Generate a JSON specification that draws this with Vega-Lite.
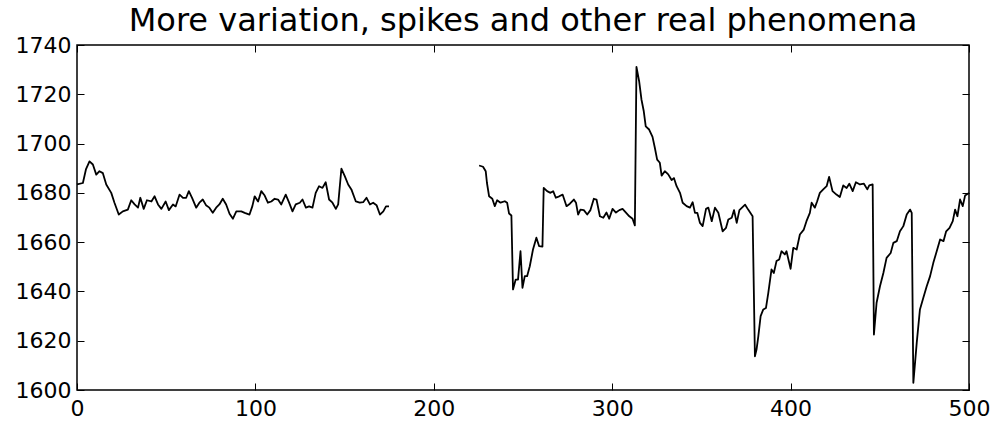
{
  "$schema": "https://vega.github.io/schema/vega-lite/v6.json",
  "width": 892,
  "height": 345,
  "autosize": {"type": "none"},
  "padding": {"left": 77, "top": 45, "right": 29, "bottom": 36},
  "background": "white",
  "title": {
    "text": "More variation, spikes and other real phenomena",
    "anchor": "middle",
    "fontSize": 32,
    "fontWeight": "normal",
    "font": "DejaVu Sans",
    "color": "black",
    "baseline": "alphabetic",
    "offset": -29
  },
  "config": {
    "font": "DejaVu Sans",
    "view": {"stroke": "black", "strokeWidth": 1.5},
    "axis": {
      "grid": false,
      "domain": false,
      "tickColor": "black",
      "tickWidth": 1,
      "tickSize": -7,
      "labelFont": "DejaVu Sans",
      "labelFontSize": 22,
      "labelColor": "black",
      "labelFlush": false,
      "labelOverlap": false,
      "labelBound": false,
      "format": "d",
      "title": null
    }
  },
  "data": {
    "values": [
      {"x": 0, "y": 1683.4, "run": "a"}, {"x": 3.3, "y": 1684, "run": "a"}, {"x": 5, "y": 1689.5, "run": "a"},
      {"x": 7, "y": 1692.8, "run": "a"}, {"x": 8.9, "y": 1691.5, "run": "a"}, {"x": 10.8, "y": 1687.4, "run": "a"},
      {"x": 12.6, "y": 1688.8, "run": "a"}, {"x": 14.5, "y": 1688, "run": "a"}, {"x": 16.4, "y": 1683.4, "run": "a"},
      {"x": 19.2, "y": 1680, "run": "a"}, {"x": 21, "y": 1676, "run": "a"}, {"x": 23.4, "y": 1671.2, "run": "a"},
      {"x": 25.7, "y": 1672.5, "run": "a"}, {"x": 28.5, "y": 1673.2, "run": "a"}, {"x": 30.4, "y": 1677, "run": "a"},
      {"x": 32.3, "y": 1675.3, "run": "a"}, {"x": 34.2, "y": 1674, "run": "a"}, {"x": 35.5, "y": 1678, "run": "a"},
      {"x": 37.4, "y": 1673.5, "run": "a"}, {"x": 39.2, "y": 1677, "run": "a"}, {"x": 41.7, "y": 1676.5, "run": "a"},
      {"x": 43.5, "y": 1678.6, "run": "a"}, {"x": 45.4, "y": 1675.3, "run": "a"}, {"x": 47.3, "y": 1673.5, "run": "a"},
      {"x": 49.7, "y": 1676.5, "run": "a"}, {"x": 51.5, "y": 1673, "run": "a"}, {"x": 53.8, "y": 1675.3, "run": "a"},
      {"x": 55.3, "y": 1674.5, "run": "a"}, {"x": 57.5, "y": 1679.3, "run": "a"}, {"x": 59.4, "y": 1678, "run": "a"},
      {"x": 61.2, "y": 1678, "run": "a"}, {"x": 62.7, "y": 1680.7, "run": "a"}, {"x": 64.5, "y": 1678, "run": "a"},
      {"x": 66.8, "y": 1674, "run": "a"}, {"x": 68.6, "y": 1676, "run": "a"}, {"x": 70.5, "y": 1677.3, "run": "a"},
      {"x": 72.3, "y": 1675, "run": "a"}, {"x": 74.2, "y": 1674, "run": "a"}, {"x": 76.1, "y": 1671.9, "run": "a"},
      {"x": 78, "y": 1674, "run": "a"}, {"x": 79.8, "y": 1675.3, "run": "a"}, {"x": 81.7, "y": 1677.6, "run": "a"},
      {"x": 83.6, "y": 1675.3, "run": "a"}, {"x": 85.5, "y": 1671.5, "run": "a"}, {"x": 87.4, "y": 1669.5, "run": "a"},
      {"x": 89.3, "y": 1672.5, "run": "a"}, {"x": 92.1, "y": 1672.5, "run": "a"}, {"x": 94, "y": 1671.9, "run": "a"},
      {"x": 96.7, "y": 1671.2, "run": "a"}, {"x": 98.3, "y": 1674.6, "run": "a"}, {"x": 99.6, "y": 1678.6, "run": "a"},
      {"x": 101.5, "y": 1676.5, "run": "a"}, {"x": 103.3, "y": 1680.7, "run": "a"}, {"x": 105.2, "y": 1678.9, "run": "a"},
      {"x": 107, "y": 1676, "run": "a"}, {"x": 108.9, "y": 1676.5, "run": "a"}, {"x": 110.8, "y": 1677.6, "run": "a"},
      {"x": 112.7, "y": 1677.3, "run": "a"}, {"x": 114.5, "y": 1675.3, "run": "a"}, {"x": 117, "y": 1679.3, "run": "a"},
      {"x": 118.9, "y": 1676, "run": "a"}, {"x": 120.8, "y": 1672.5, "run": "a"}, {"x": 122.6, "y": 1675.3, "run": "a"},
      {"x": 124.9, "y": 1676, "run": "a"}, {"x": 126.4, "y": 1677.3, "run": "a"}, {"x": 128.3, "y": 1674, "run": "a"},
      {"x": 130.1, "y": 1674.5, "run": "a"}, {"x": 132, "y": 1674, "run": "a"}, {"x": 133.8, "y": 1680, "run": "a"},
      {"x": 135.7, "y": 1682.7, "run": "a"}, {"x": 137.6, "y": 1682, "run": "a"}, {"x": 139.4, "y": 1684.3, "run": "a"},
      {"x": 141.3, "y": 1677.3, "run": "a"}, {"x": 143.2, "y": 1676, "run": "a"}, {"x": 145.1, "y": 1673.5, "run": "a"},
      {"x": 146.4, "y": 1675.3, "run": "a"}, {"x": 148.2, "y": 1689.8, "run": "a"}, {"x": 150.1, "y": 1686.8, "run": "a"},
      {"x": 152, "y": 1683.4, "run": "a"}, {"x": 153.8, "y": 1681.4, "run": "a"}, {"x": 156.3, "y": 1676.5, "run": "a"},
      {"x": 158.5, "y": 1676, "run": "a"}, {"x": 160.4, "y": 1676.2, "run": "a"}, {"x": 162.3, "y": 1678, "run": "a"},
      {"x": 164.2, "y": 1675.3, "run": "a"}, {"x": 166, "y": 1676, "run": "a"}, {"x": 167.9, "y": 1675, "run": "a"},
      {"x": 169.8, "y": 1671.2, "run": "a"}, {"x": 171.7, "y": 1672.5, "run": "a"}, {"x": 173.2, "y": 1674.5, "run": "a"},
      {"x": 174.9, "y": 1674.5, "run": "a"},
      {"x": 225.4, "y": 1691.1, "run": "b"}, {"x": 227.6, "y": 1690.6, "run": "b"}, {"x": 229.1, "y": 1688.8, "run": "b"},
      {"x": 229.8, "y": 1684, "run": "b"}, {"x": 231, "y": 1678.6, "run": "b"}, {"x": 232.8, "y": 1677.6, "run": "b"},
      {"x": 234.2, "y": 1674.6, "run": "b"}, {"x": 235.5, "y": 1677, "run": "b"}, {"x": 237.4, "y": 1676, "run": "b"},
      {"x": 239.8, "y": 1676.6, "run": "b"}, {"x": 241.1, "y": 1676, "run": "b"}, {"x": 242.2, "y": 1671.6, "run": "b"},
      {"x": 243.5, "y": 1670.8, "run": "b"}, {"x": 244.4, "y": 1640.8, "run": "b"}, {"x": 245.9, "y": 1644.8, "run": "b"},
      {"x": 247.2, "y": 1644.8, "run": "b"}, {"x": 248.6, "y": 1656.3, "run": "b"}, {"x": 249.7, "y": 1641.5, "run": "b"},
      {"x": 251, "y": 1646.2, "run": "b"}, {"x": 252.3, "y": 1646.2, "run": "b"}, {"x": 253.8, "y": 1650.2, "run": "b"},
      {"x": 255.6, "y": 1657, "run": "b"}, {"x": 257.5, "y": 1661.8, "run": "b"}, {"x": 259, "y": 1658.4, "run": "b"},
      {"x": 260.9, "y": 1658.2, "run": "b"}, {"x": 261.6, "y": 1682, "run": "b"}, {"x": 263.5, "y": 1680.7, "run": "b"},
      {"x": 265.4, "y": 1680, "run": "b"}, {"x": 266.9, "y": 1680.7, "run": "b"}, {"x": 268.4, "y": 1678, "run": "b"},
      {"x": 270.3, "y": 1678.6, "run": "b"}, {"x": 272.2, "y": 1679.3, "run": "b"}, {"x": 274.4, "y": 1674.6, "run": "b"},
      {"x": 276.3, "y": 1675.6, "run": "b"}, {"x": 278.5, "y": 1677.3, "run": "b"}, {"x": 279.7, "y": 1676, "run": "b"},
      {"x": 280.9, "y": 1671.2, "run": "b"}, {"x": 282.2, "y": 1673.2, "run": "b"}, {"x": 284.1, "y": 1673, "run": "b"},
      {"x": 286, "y": 1671.2, "run": "b"}, {"x": 287.8, "y": 1673, "run": "b"}, {"x": 289.7, "y": 1677.6, "run": "b"},
      {"x": 291.2, "y": 1677.3, "run": "b"}, {"x": 293.1, "y": 1670.5, "run": "b"}, {"x": 295, "y": 1669.9, "run": "b"},
      {"x": 296.8, "y": 1672, "run": "b"}, {"x": 298.3, "y": 1669.5, "run": "b"}, {"x": 300.2, "y": 1673.5, "run": "b"},
      {"x": 302.1, "y": 1672, "run": "b"}, {"x": 304, "y": 1673, "run": "b"}, {"x": 305.8, "y": 1673.5, "run": "b"},
      {"x": 307.7, "y": 1672, "run": "b"}, {"x": 309.6, "y": 1670.5, "run": "b"}, {"x": 311.4, "y": 1669.5, "run": "b"},
      {"x": 312.7, "y": 1666.8, "run": "b"}, {"x": 313.6, "y": 1731.1, "run": "b"}, {"x": 315.1, "y": 1725.3, "run": "b"},
      {"x": 316.4, "y": 1717.9, "run": "b"}, {"x": 317.7, "y": 1713.1, "run": "b"}, {"x": 318.8, "y": 1707, "run": "b"},
      {"x": 320.7, "y": 1705.7, "run": "b"}, {"x": 322.6, "y": 1702.7, "run": "b"}, {"x": 323.9, "y": 1698.3, "run": "b"},
      {"x": 325.2, "y": 1693.5, "run": "b"}, {"x": 326.7, "y": 1692.2, "run": "b"}, {"x": 327.7, "y": 1687, "run": "b"},
      {"x": 329.5, "y": 1688.8, "run": "b"}, {"x": 331.4, "y": 1687.5, "run": "b"}, {"x": 333.3, "y": 1685.2, "run": "b"},
      {"x": 334.6, "y": 1686, "run": "b"}, {"x": 336.1, "y": 1682.7, "run": "b"}, {"x": 338, "y": 1680, "run": "b"},
      {"x": 339.5, "y": 1676, "run": "b"}, {"x": 341.7, "y": 1674.6, "run": "b"}, {"x": 343.6, "y": 1674, "run": "b"},
      {"x": 345.1, "y": 1676.2, "run": "b"}, {"x": 346.4, "y": 1671.9, "run": "b"}, {"x": 347.7, "y": 1671.9, "run": "b"},
      {"x": 349.2, "y": 1667.8, "run": "b"}, {"x": 350.7, "y": 1666.5, "run": "b"}, {"x": 352.6, "y": 1673.5, "run": "b"},
      {"x": 353.9, "y": 1674, "run": "b"}, {"x": 355.8, "y": 1668.5, "run": "b"}, {"x": 357.6, "y": 1674, "run": "b"},
      {"x": 359.5, "y": 1671.9, "run": "b"}, {"x": 361.9, "y": 1664.4, "run": "b"}, {"x": 363.8, "y": 1665.8, "run": "b"},
      {"x": 365.1, "y": 1669.2, "run": "b"}, {"x": 367, "y": 1669.9, "run": "b"}, {"x": 368.3, "y": 1673, "run": "b"},
      {"x": 369.8, "y": 1667.8, "run": "b"}, {"x": 371.3, "y": 1673, "run": "b"}, {"x": 373.2, "y": 1674.3, "run": "b"},
      {"x": 374.5, "y": 1675.2, "run": "b"}, {"x": 376.4, "y": 1673, "run": "b"}, {"x": 378.7, "y": 1670.5, "run": "b"},
      {"x": 380, "y": 1613.7, "run": "b"}, {"x": 380.9, "y": 1616.4, "run": "b"}, {"x": 381.9, "y": 1621.8, "run": "b"},
      {"x": 383.2, "y": 1630, "run": "b"}, {"x": 384.7, "y": 1632.7, "run": "b"}, {"x": 386.2, "y": 1633.3, "run": "b"},
      {"x": 387.5, "y": 1639.4, "run": "b"}, {"x": 389.3, "y": 1648.9, "run": "b"}, {"x": 390.6, "y": 1647.5, "run": "b"},
      {"x": 392.1, "y": 1652.3, "run": "b"}, {"x": 393.6, "y": 1653, "run": "b"}, {"x": 394.9, "y": 1656.3, "run": "b"},
      {"x": 396.8, "y": 1655, "run": "b"}, {"x": 397.7, "y": 1656.3, "run": "b"}, {"x": 400, "y": 1649.2, "run": "b"},
      {"x": 401.5, "y": 1657.7, "run": "b"}, {"x": 403.4, "y": 1657, "run": "b"}, {"x": 405.2, "y": 1663.1, "run": "b"},
      {"x": 407.4, "y": 1665.1, "run": "b"}, {"x": 408.9, "y": 1668.5, "run": "b"}, {"x": 410.8, "y": 1671.9, "run": "b"},
      {"x": 411.8, "y": 1676, "run": "b"}, {"x": 413.6, "y": 1674, "run": "b"}, {"x": 414.9, "y": 1676.6, "run": "b"},
      {"x": 416.4, "y": 1680, "run": "b"}, {"x": 418.3, "y": 1681.4, "run": "b"}, {"x": 420.2, "y": 1682.7, "run": "b"},
      {"x": 421.6, "y": 1686.5, "run": "b"}, {"x": 423.5, "y": 1680.7, "run": "b"}, {"x": 425.7, "y": 1679.3, "run": "b"},
      {"x": 427.6, "y": 1678.3, "run": "b"}, {"x": 429.5, "y": 1683, "run": "b"}, {"x": 431.4, "y": 1682, "run": "b"},
      {"x": 432.9, "y": 1683.7, "run": "b"}, {"x": 434.8, "y": 1680.7, "run": "b"}, {"x": 436.6, "y": 1684.3, "run": "b"},
      {"x": 438.9, "y": 1683.4, "run": "b"}, {"x": 441.1, "y": 1683.7, "run": "b"}, {"x": 443, "y": 1681.4, "run": "b"},
      {"x": 444.1, "y": 1683, "run": "b"}, {"x": 446, "y": 1683.4, "run": "b"}, {"x": 446.7, "y": 1622.5, "run": "b"},
      {"x": 448.2, "y": 1635.4, "run": "b"}, {"x": 450.1, "y": 1642.1, "run": "b"}, {"x": 452, "y": 1647.5, "run": "b"},
      {"x": 453.8, "y": 1653.6, "run": "b"}, {"x": 456.1, "y": 1655.6, "run": "b"}, {"x": 457.6, "y": 1659.7, "run": "b"},
      {"x": 459.5, "y": 1660.4, "run": "b"}, {"x": 461.3, "y": 1664.4, "run": "b"}, {"x": 463.2, "y": 1666.5, "run": "b"},
      {"x": 465.1, "y": 1671.2, "run": "b"}, {"x": 467, "y": 1673.2, "run": "b"}, {"x": 467.9, "y": 1671.9, "run": "b"},
      {"x": 468.8, "y": 1602.9, "run": "b"}, {"x": 470.7, "y": 1619.1, "run": "b"}, {"x": 472.5, "y": 1632.7, "run": "b"},
      {"x": 474.4, "y": 1637.4, "run": "b"}, {"x": 476.3, "y": 1642.1, "run": "b"}, {"x": 478.2, "y": 1646.2, "run": "b"},
      {"x": 480, "y": 1651.6, "run": "b"}, {"x": 481.9, "y": 1656.3, "run": "b"}, {"x": 483.8, "y": 1661.1, "run": "b"},
      {"x": 485.7, "y": 1660.4, "run": "b"}, {"x": 487.2, "y": 1664.4, "run": "b"}, {"x": 489.1, "y": 1665.8, "run": "b"},
      {"x": 490.9, "y": 1668.5, "run": "b"}, {"x": 492.2, "y": 1673.2, "run": "b"}, {"x": 493.5, "y": 1670.5, "run": "b"},
      {"x": 495, "y": 1677.3, "run": "b"}, {"x": 496.5, "y": 1674.6, "run": "b"}, {"x": 497.8, "y": 1678.9, "run": "b"},
      {"x": 499.6, "y": 1679.7, "run": "b"}, {"x": 500, "y": 1680, "run": "b"}
    ]
  },
  "layer": [
    {
      "mark": {"type": "line", "color": "black", "strokeWidth": 1.8, "strokeJoin": "round"},
      "encoding": {
        "x": {
          "field": "x", "type": "quantitative",
          "scale": {"domain": [0, 500], "nice": false, "zero": false},
          "axis": {"orient": "bottom", "values": [0, 100, 200, 300, 400, 500], "labelPadding": 15}
        },
        "y": {
          "field": "y", "type": "quantitative",
          "scale": {"domain": [1600, 1740], "nice": false, "zero": false},
          "axis": {"orient": "left", "values": [1600, 1620, 1640, 1660, 1680, 1700, 1720, 1740], "labelPadding": 13}
        },
        "detail": {"field": "run"}
      }
    },
    {
      "mark": {"type": "line", "strokeOpacity": 0},
      "encoding": {
        "x": {
          "field": "x", "type": "quantitative",
          "axis": {"orient": "top", "values": [0, 100, 200, 300, 400, 500], "labels": false}
        },
        "y": {
          "field": "y", "type": "quantitative",
          "axis": {"orient": "right", "values": [1600, 1620, 1640, 1660, 1680, 1700, 1720, 1740], "labels": false}
        },
        "detail": {"field": "run"}
      }
    }
  ],
  "resolve": {"axis": {"x": "independent", "y": "independent"}}
}
